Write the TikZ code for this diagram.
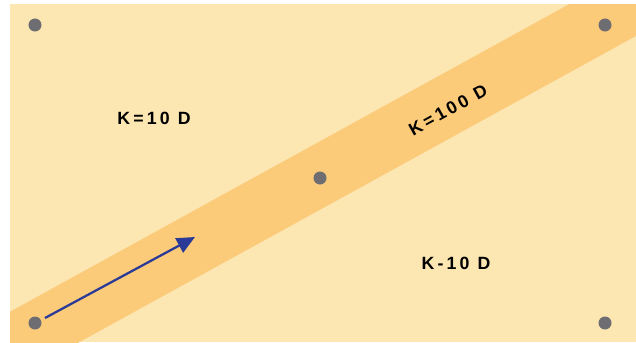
\documentclass[tikz,border=0pt]{standalone}
\usepackage{fontspec}
\setmainfont{Liberation Sans}
\usetikzlibrary{arrows.meta}

\definecolor{paper}{RGB}{252,230,178}
\definecolor{ridge}{RGB}{251,203,122}
\definecolor{pin}{RGB}{110,110,114}
\definecolor{flow}{RGB}{43,58,150}

\tikzset{
    pin/.style={circle, fill=pin, inner sep=0pt, minimum size=0.325cm},
    label/.style={font=\fontsize{12.6}{14}\selectfont\bfseries\addfontfeatures{LetterSpace=18}, inner sep=0pt}
}

\begin{document}
\begin{tikzpicture}[x=0.025cm, y=-0.025cm]
        \useasboundingbox (0,0) rectangle (636,342);
        \fill[paper] (10,4) rectangle (636,342);
        % high permeability band
        \begin{scope}
            \clip (10,4) rectangle (636,342);
            \draw[ridge, line width=1.5cm] (-50,379) -- (700,-33.5);
        \end{scope}

        \node[pin] (nw) at (35,25) {};
        \node[pin] (ne) at (605,25) {};
        \node[pin] (sw) at (35,323) {};
        \node[pin] (se) at (605,323) {};
        \node[pin] (mid) at (320,178) {};

        \node[label] (upper) at (154,118) {K=10 D};
        \node[label] (lower) at (456,263) {K-10 D};
        \node[label, rotate=29] (band) at (448,110) {K=100 D};

        \coordinate (start) at (45,318);
        \coordinate (stop) at (195,237);
        \draw[flow, line width=1.6pt, -{Triangle[length=0.45cm, width=0.4cm]}] (start) -- (stop);
    \end{tikzpicture}
\end{document}
